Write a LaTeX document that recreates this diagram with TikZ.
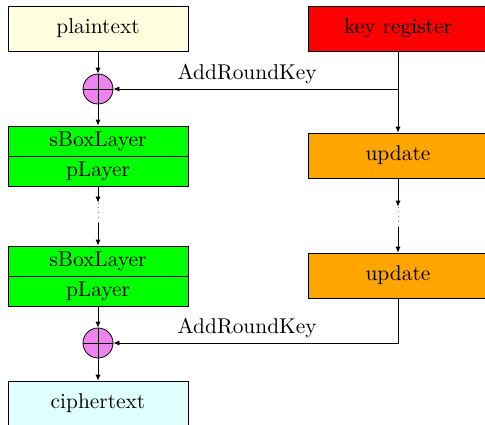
\documentclass[tikz,border=0pt]{standalone}
\usetikzlibrary{arrows.meta,calc}
\definecolor{ptcol}{RGB}{255,255,224}
\definecolor{ctcol}{RGB}{224,255,255}
\definecolor{grn}{RGB}{0,255,0}
\definecolor{rd}{RGB}{255,0,0}
\definecolor{org}{RGB}{255,165,0}
\definecolor{vio}{RGB}{238,130,238}
\tikzset{
  every node/.style={font=\fontsize{10.7}{13}\selectfont},
  box/.style={draw, minimum width=90pt, minimum height=22.5pt, inner sep=0pt},
  half/.style={draw, minimum width=90pt, minimum height=15pt, inner sep=0pt, fill=grn},
  xorc/.style={draw, circle, fill=vio, minimum size=15pt, inner sep=0pt},
  arr/.style={-{Latex[length=3pt,width=2.6pt]}, line width=0.4pt},
  vd/.style={inner sep=0pt, minimum width=1pt, minimum height=10pt},
  vdl/.style={gray, dotted, line width=0.4pt}
}
\begin{document}
\begin{tikzpicture}[x=0.5pt,y=-0.5pt]
\useasboundingbox (0,0) rectangle (485,424);
% left column
\node[box, fill=ptcol] (pt) at (98,28.5) {plaintext};
\node[xorc] (x1) at (98,89) {};
\draw (x1.north) -- (x1.south) (x1.west) -- (x1.east);
\node[half] (s1) at (98,141) {sBoxLayer};
\node[half] (p1) at (98,171) {pLayer};
\node[vd] (d1) at (98,213) {};
\draw[vdl] (d1.north) -- (d1.south);
\node[half] (s2) at (98,261) {sBoxLayer};
\node[half] (p2) at (98,291) {pLayer};
\node[xorc] (x2) at (98,343) {};
\draw (x2.north) -- (x2.south) (x2.west) -- (x2.east);
\node[box, fill=ctcol] (ct) at (98,403.5) {ciphertext};
% right column
\node[box, fill=rd] (kr) at (398,28.5) {key register};
\node[box, fill=org] (u1) at (398,155.5) {update};
\node[vd] (d2) at (398,217) {};
\draw[vdl] (d2.north) -- (d2.south);
\node[box, fill=org] (u2) at (398,275.5) {update};
\coordinate (k1) at (398,89);
% connectors
\draw[arr] (pt) -- (x1);
\draw[arr] (x1) -- (s1);
\draw[arr] (p1.south) -- (d1.north);
\draw[arr] (d1.south) -- (s2.north);
\draw[arr] (p2) -- (x2);
\draw[arr] (x2) -- (ct);
\draw[arr] (kr) -- (u1);
\draw[arr] (u1.south) -- (d2.north);
\draw[arr] (d2.south) -- (u2.north);
\draw[arr] (k1) -- node[pos=0.53, above, yshift=-1pt] {AddRoundKey} (x1);
\draw[arr] (u2.south) |- node[pos=0.765, above, yshift=-1pt] {AddRoundKey} (x2);
\end{tikzpicture}
\end{document}
